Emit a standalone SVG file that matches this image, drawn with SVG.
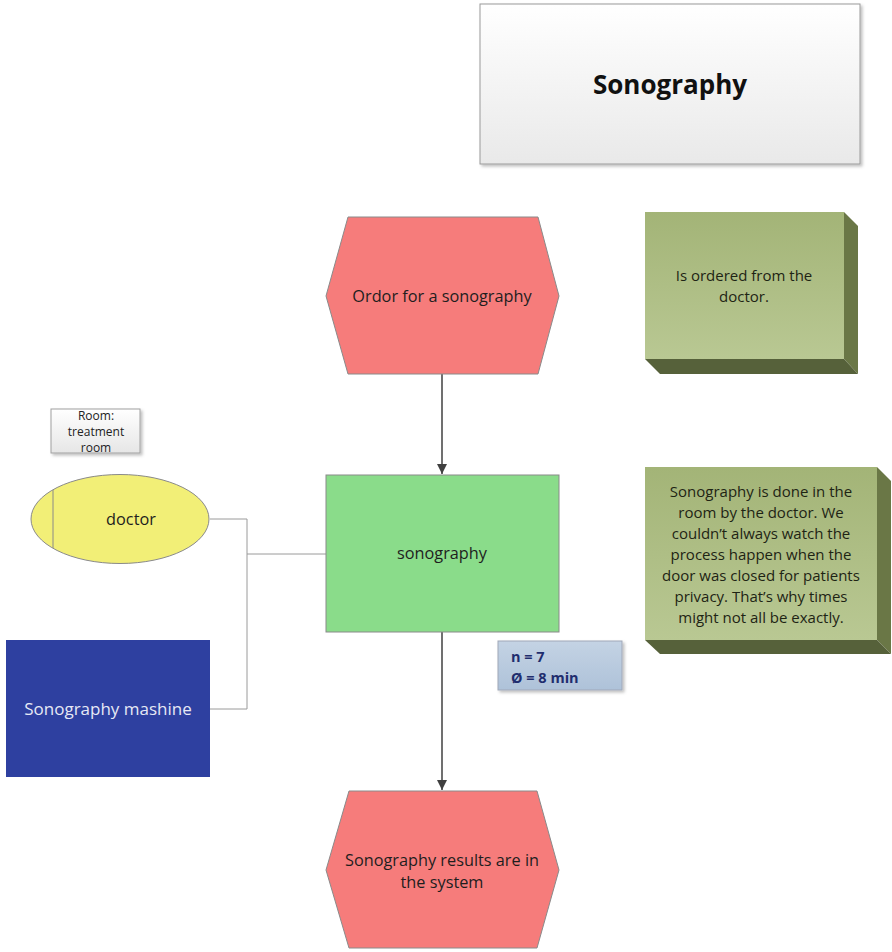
<svg xmlns="http://www.w3.org/2000/svg" width="892" height="952" viewBox="0 0 892 952">
  <defs>
    <linearGradient id="gTitle" x1="0" y1="0" x2="0" y2="1">
      <stop offset="0" stop-color="#ffffff"/>
      <stop offset="1" stop-color="#e9e9e9"/>
    </linearGradient>
    <linearGradient id="gNote" x1="0" y1="0" x2="0" y2="1">
      <stop offset="0" stop-color="#a3b477"/>
      <stop offset="1" stop-color="#b9c893"/>
    </linearGradient>
    <linearGradient id="gStat" x1="0" y1="0" x2="0" y2="1">
      <stop offset="0" stop-color="#c4d3e4"/>
      <stop offset="1" stop-color="#aec2d9"/>
    </linearGradient>
    <linearGradient id="gRoom" x1="0" y1="0" x2="0" y2="1">
      <stop offset="0" stop-color="#ffffff"/>
      <stop offset="1" stop-color="#e6e6e6"/>
    </linearGradient>
    <filter id="shadow" x="-10%" y="-10%" width="130%" height="130%">
      <feDropShadow dx="2" dy="2" stdDeviation="1.5" flood-color="#000" flood-opacity="0.25"/>
    </filter>
    <marker id="arrow" markerWidth="12" markerHeight="12" refX="10" refY="5" orient="auto" markerUnits="userSpaceOnUse">
      <path d="M0,0 L10,5 L0,10 Z" fill="#404040"/>
    </marker>
  </defs>
  <style>
    text { font-family: "Open Sans", "Liberation Sans", sans-serif; }
    .ev { fill: #f67c7b; stroke: #8a8a8a; stroke-width: 1; }
    .lbl { font-size: 16.3px; fill: #1e1e1e; text-anchor: middle; }
    .note { font-size: 15px; fill: #1e2414; text-anchor: middle; }
    .room { font-size: 12px; fill: #222; text-anchor: middle; }
    .stat { font-size: 14.5px; font-weight: bold; fill: #1f2d6e; }
    .side { fill: #6a7746; }
    .side2 { fill: #56613a; }
    .link { fill: none; stroke: #9a9a9a; stroke-width: 1; }
    .flow { fill: none; stroke: #404040; stroke-width: 1.5; }
  </style>

  <!-- header -->
  <g id="title">
    <rect x="480" y="4" width="380" height="160" fill="url(#gTitle)" stroke="#9a9a9a" filter="url(#shadow)"/>
    <text x="670" y="94" font-size="26" font-weight="bold" text-anchor="middle" fill="#111">Sonography</text>
  </g>

  <!-- connectors -->
  <g id="connectors">
    <line class="flow" x1="442" y1="374" x2="442" y2="474" marker-end="url(#arrow)"/>
    <line class="flow" x1="442" y1="632" x2="442" y2="790" marker-end="url(#arrow)"/>
    <polyline class="link" points="210,519 247,519 247,709 210,709"/>
    <line class="link" x1="247" y1="554" x2="326" y2="554"/>
  </g>

  <!-- start event -->
  <g id="event-order">
    <polygon class="ev" points="348,217 538,217 559,296 538,374 348,374 326,296"/>
    <text class="lbl" x="442" y="302">Ordor for a sonography</text>
  </g>

  <!-- function -->
  <g id="function-sonography">
    <rect x="326" y="475" width="233" height="157" fill="#8adc8a" stroke="#8a8a8a"/>
    <text class="lbl" x="442" y="559">sonography</text>
  </g>

  <!-- end event -->
  <g id="event-results">
    <polygon class="ev" points="349,791 537,791 559,870 537,948 349,948 326,870"/>
    <text class="lbl" x="442" y="866">Sonography results are in</text>
    <text class="lbl" x="442" y="888">the system</text>
  </g>

  <!-- organisational unit -->
  <g id="room">
    <rect x="51" y="409" width="89" height="44" fill="url(#gRoom)" stroke="#a0a0a0" filter="url(#shadow)"/>
    <text class="room" x="96" y="420">Room:</text>
    <text class="room" x="96" y="436">treatment</text>
    <text class="room" x="96" y="452">room</text>
  </g>

  <g id="doctor">
    <ellipse cx="120" cy="519" rx="89" ry="44.5" fill="#f2ef77" stroke="#8a8a8a"/>
    <line x1="53" y1="490" x2="53" y2="548" stroke="#8a8a8a"/>
    <text class="lbl" x="131" y="525">doctor</text>
  </g>

  <g id="machine">
    <rect x="6" y="640" width="204" height="137" fill="#2e40a0"/>
    <text x="108" y="715" font-size="17" text-anchor="middle" fill="#e6e9f5">Sonography mashine</text>
  </g>

  <!-- statistics -->
  <g id="stats">
    <rect x="498" y="641" width="124" height="49" fill="url(#gStat)" stroke="#a0a8b8" filter="url(#shadow)"/>
    <text class="stat" x="511" y="662">n = 7</text>
    <text class="stat" x="511" y="683">Ø = 8 min</text>
  </g>

  <!-- annotations -->
  <g id="note-order">
    <polygon class="side" points="844,212 858,226 858,374 844,359"/>
    <polygon class="side2" points="645,359 844,359 858,374 660,374"/>
    <rect x="645" y="212" width="199" height="147" fill="url(#gNote)"/>
    <text class="note" x="744" y="281">Is ordered from the</text>
    <text class="note" x="744" y="302">doctor.</text>
  </g>

  <g id="note-sonography">
    <polygon class="side" points="877,467 891,481 891,654 877,640"/>
    <polygon class="side2" points="645,640 877,640 891,654 660,654"/>
    <rect x="645" y="467" width="232" height="173" fill="url(#gNote)"/>
    <text class="note" x="761" y="497">Sonography is done in the</text>
    <text class="note" x="761" y="518">room by the doctor. We</text>
    <text class="note" x="761" y="539">couldn’t always watch the</text>
    <text class="note" x="761" y="560">process happen when the</text>
    <text class="note" x="761" y="581">door was closed for patients</text>
    <text class="note" x="761" y="602">privacy. That’s why times</text>
    <text class="note" x="761" y="623">might not all be exactly.</text>
  </g>
</svg>
